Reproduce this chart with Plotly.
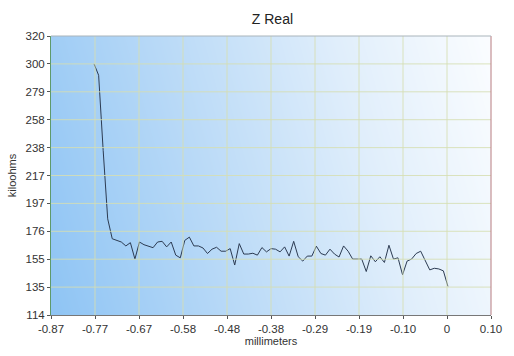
import numpy as np
import plotly.graph_objects as go

# ---- data ----
x_start = -0.775
x_step = 0.01
z_real = [299.4, 291.0, 235.6, 185.0, 170.3, 169.1, 167.9, 165.0, 167.4, 155.3,
          167.9, 165.9, 164.8, 163.7, 167.9, 168.4, 164.3, 167.9, 158.2, 156.2,
          169.1, 171.5, 165.0, 165.0, 163.5, 159.4, 162.6, 164.0, 161.1, 161.1,
          163.0, 150.9, 166.7, 159.0, 159.0, 159.6, 158.2, 163.8, 160.6, 163.0,
          162.6, 160.6, 164.3, 157.5, 168.4, 157.0, 153.8, 157.5, 157.5, 164.8,
          159.4, 158.2, 162.6, 159.0, 156.8, 165.0, 161.1, 155.3, 155.3, 155.3,
          146.1, 157.7, 153.3, 157.0, 152.8, 165.5, 155.3, 156.2, 143.7, 153.8,
          155.3, 159.4, 161.1, 153.8, 147.3, 148.5, 148.0, 146.6, 135.1]
mm = [x_start + i * x_step for i in range(len(z_real))]

x_ticktext = ["-0.87", "-0.77", "-0.67", "-0.58", "-0.48", "-0.38", "-0.29",
              "-0.19", "-0.10", "0", "0.10"]
y_ticktext = ["114", "135", "155", "176", "197", "217", "238", "258", "279",
              "300", "320"]
x_range = [-0.87, 0.10]
y_range = [114, 320]

x_tickvals = list(np.linspace(x_range[0], x_range[1], len(x_ticktext)))
y_tickvals = list(np.linspace(y_range[0], y_range[1], len(y_ticktext)))

# ---- background gradient (styling) ----
gx = np.linspace(x_range[0] - 0.01, x_range[1] + 0.01, 40)
gy = np.linspace(y_range[0] - 2, y_range[1] + 2, 12)
xn = (gx - x_range[0]) / (x_range[1] - x_range[0])
yn = (gy - y_range[0]) / (y_range[1] - y_range[0])
gz = np.clip(0.85 * xn[None, :] + 0.15 * yn[:, None], 0, 1)

fig = go.Figure()
fig.add_trace(go.Heatmap(
    x=gx, y=gy, z=gz, zmin=0, zmax=1, zsmooth="best", showscale=False,
    hoverinfo="skip",
    colorscale=[[0, "#8ec4f4"], [0.35, "#b8d9f7"], [0.7, "#e0eefb"], [1, "#fbfdff"]],
))
fig.add_trace(go.Scatter(
    x=mm, y=z_real, mode="lines",
    line=dict(color="#2c3b52", width=1),
    showlegend=False,
))

grid_col = "rgba(214,222,178,0.85)"
shapes = []
for xv in x_tickvals[1:-1]:
    shapes.append(dict(type="line", xref="x", yref="paper", x0=xv, x1=xv, y0=0, y1=1,
                       line=dict(color=grid_col, width=1), layer="above"))
for yv in y_tickvals[1:-1]:
    shapes.append(dict(type="line", xref="paper", yref="y", x0=0, x1=1, y0=yv, y1=yv,
                       line=dict(color=grid_col, width=1), layer="above"))
# borders
shapes.append(dict(type="line", xref="paper", yref="paper", x0=1, x1=1, y0=0, y1=1,
                   line=dict(color="#b87c80", width=1)))
shapes.append(dict(type="line", xref="paper", yref="paper", x0=0, x1=1, y0=1, y1=1,
                   line=dict(color="#a9b4bb", width=1)))

fig.update_layout(
    width=514, height=356,
    margin=dict(l=49, r=19, t=36, b=37),
    paper_bgcolor="white", plot_bgcolor="white",
    font=dict(family="Liberation Sans, Arial, sans-serif", color="#333333", size=11),
    title=dict(text="Z Real", x=0.53, xanchor="center", y=0.945, yanchor="middle",
               font=dict(size=14, color="#222222")),
    showlegend=False,
    shapes=shapes,
)
fig.update_xaxes(
    range=x_range, tickvals=x_tickvals, ticktext=x_ticktext,
    showgrid=False, zeroline=False, showline=True, linecolor="#777777", linewidth=1,
    ticks="outside", ticklen=3, tickcolor="#555555",
    title=dict(text="millimeters", font=dict(size=11), standoff=2),
    tickfont=dict(size=11.5),
)
fig.update_yaxes(
    range=y_range, tickvals=y_tickvals, ticktext=y_ticktext,
    showgrid=False, zeroline=False, showline=True, linecolor="#5f9a6a", linewidth=1,
    ticks="outside", ticklen=3, tickcolor="#555555",
    title=dict(text="kiloohms", font=dict(size=11), standoff=6),
    tickfont=dict(size=11.5),
)

fig.write_html("out.html", config={"displayModeBar": False},
               post_script="document.body.style.margin='0';")
